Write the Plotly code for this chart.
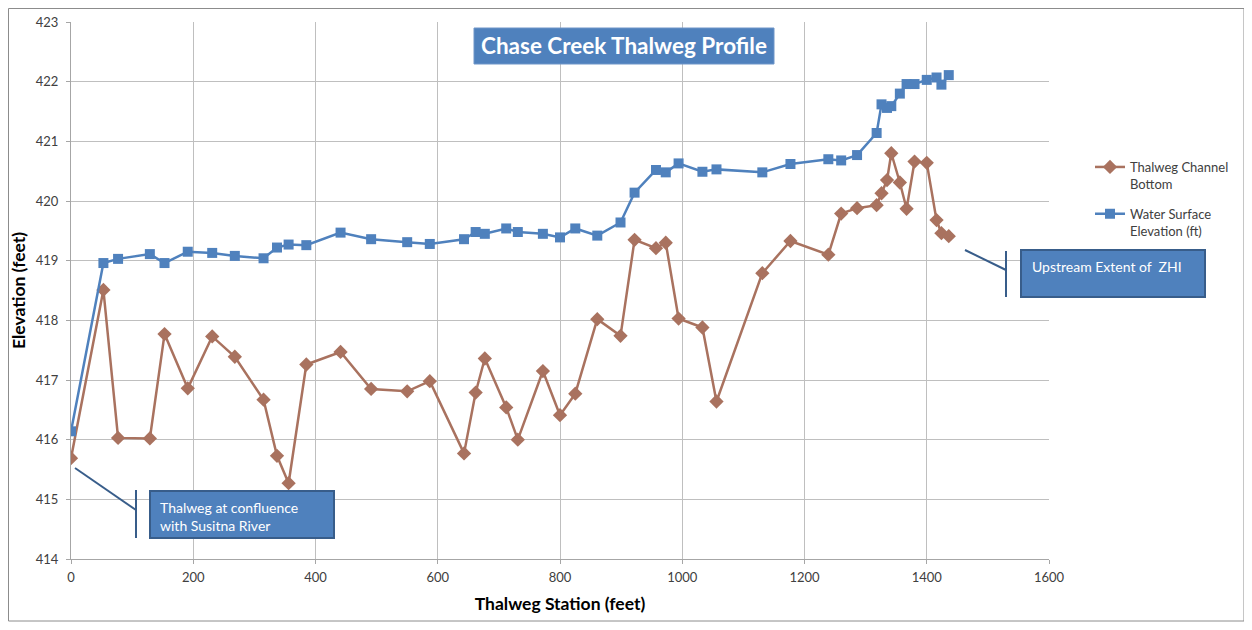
import plotly.graph_objects as go

# thalweg survey stations (feet) and elevations (feet)
station = [0, 53, 77, 129, 153, 191, 231, 268, 315, 337, 356, 385, 441, 491, 550, 587,
           643, 662, 677, 712, 731, 772, 800, 825, 861, 899, 922, 957, 973, 994, 1033, 1056,
           1131, 1177, 1239, 1260, 1286, 1318, 1326, 1335, 1342, 1356, 1367, 1380, 1400, 1416,
           1424, 1436]
channel_bottom = [415.69, 418.51, 416.03, 416.02, 417.77, 416.86, 417.73, 417.39, 416.67, 415.73,
                  415.27, 417.26, 417.47, 416.85, 416.81, 416.98, 415.77, 416.79, 417.36, 416.54,
                  416.00, 417.15, 416.41, 416.77, 418.02, 417.74, 419.35, 419.21, 419.30, 418.03,
                  417.88, 416.64, 418.79, 419.33, 419.10, 419.79, 419.88, 419.93, 420.13, 420.35,
                  420.80, 420.31, 419.87, 420.66, 420.64, 419.68, 419.46, 419.41]
water_surface = [416.14, 418.96, 419.03, 419.11, 418.96, 419.15, 419.13, 419.08, 419.04, 419.22,
                 419.27, 419.26, 419.47, 419.36, 419.31, 419.28, 419.36, 419.48, 419.45, 419.54,
                 419.48, 419.45, 419.39, 419.54, 419.42, 419.64, 420.14, 420.52, 420.48, 420.63,
                 420.49, 420.53, 420.48, 420.62, 420.70, 420.68, 420.77, 421.14, 421.62, 421.56,
                 421.59, 421.80, 421.96, 421.96, 422.03, 422.07, 421.95, 422.11]

# page body has an 8px margin, so the figure sits 8px in from the window corner
OFF = 8
W, H = 1252 - 2 * OFF, 630 - 2 * OFF
L, R, T, B = 71, 1049, 22, 559   # plot area in window pixels

def px(x):
    return (x - L) / (R - L)

def py(y):
    return (B - y) / (B - T)

FONT = "Lato"
BLUE = "#4f81bd"
BROWN = "#a9725f"
DARK = "#385d8a"

fig = go.Figure()
fig.add_trace(go.Scatter(x=station, y=channel_bottom, mode="lines+markers",
                         name="Thalweg Channel<br>Bottom", legendgroup="bottom",
                         line=dict(color=BROWN, width=2.5),
                         marker=dict(symbol="diamond", size=11, color=BROWN)))
fig.add_trace(go.Scatter(x=station, y=water_surface, mode="lines+markers",
                         name="Water Surface<br>Elevation (ft)", legendgroup="wse",
                         line=dict(color=BLUE, width=2.5),
                         marker=dict(symbol="square", size=10, color=BLUE)))

shapes = [
    # outer chart frame
    dict(type="rect", xref="paper", yref="paper", x0=px(8.5), x1=px(1244), y0=py(8.5), y1=py(621),
         line=dict(color="#8c8c8c", width=1), layer="below"),
    # title box
    dict(type="rect", xref="paper", yref="paper", x0=px(474), x1=px(774), y0=py(28), y1=py(64),
         fillcolor=BLUE, line=dict(color="#6e95c8", width=1)),
    # confluence callout
    dict(type="rect", xref="paper", yref="paper", x0=px(150), x1=px(334), y0=py(491), y1=py(538),
         fillcolor=BLUE, line=dict(color=DARK, width=2)),
    dict(type="line", xref="paper", yref="paper", x0=px(136), x1=px(136), y0=py(490), y1=py(538),
         line=dict(color=DARK, width=2)),
    dict(type="line", xref="paper", yref="paper", x0=px(75), x1=px(136), y0=py(468), y1=py(510),
         line=dict(color=DARK, width=2)),
    # upstream callout
    dict(type="rect", xref="paper", yref="paper", x0=px(1021), x1=px(1205), y0=py(250), y1=py(297),
         fillcolor=BLUE, line=dict(color=DARK, width=2)),
    dict(type="line", xref="paper", yref="paper", x0=px(1006), x1=px(1006), y0=py(251), y1=py(297),
         line=dict(color=DARK, width=2)),
    dict(type="line", xref="paper", yref="paper", x0=px(965), x1=px(1006), y0=py(250), y1=py(270),
         line=dict(color=DARK, width=2)),
]

annotations = [
    dict(text="<b>Chase Creek Thalweg Profile</b>", xref="paper", yref="paper",
         x=px(624), y=py(46), xanchor="center", yanchor="middle", showarrow=False,
         font=dict(family=FONT, size=22.5, color="white")),
    dict(text="Thalweg at confluence<br>with Susitna River", xref="paper", yref="paper",
         x=px(158), y=py(497), xanchor="left", yanchor="top", align="left", showarrow=False,
         font=dict(family=FONT, size=14, color="white")),
    dict(text="Upstream Extent of  ZHI", xref="paper", yref="paper",
         x=px(1030), y=py(256), xanchor="left", yanchor="top", align="left", showarrow=False,
         font=dict(family=FONT, size=14, color="white")),
]

fig.update_layout(
    width=W, height=H,
    margin=dict(l=L - OFF, r=W - (R - OFF), t=T - OFF, b=H - (B - OFF), autoexpand=False),
    paper_bgcolor="white", plot_bgcolor="white",
    font=dict(family=FONT, size=13, color="#404040"),
    shapes=shapes, annotations=annotations,
    legend=dict(x=px(1090), y=py(152), xanchor="left", yanchor="top", valign="top",
                font=dict(family=FONT, size=13, color="#404040"),
                itemwidth=30, tracegroupgap=10, bgcolor="rgba(0,0,0,0)"),
)
fig.update_xaxes(range=[0, 1600], dtick=200, showgrid=True, gridcolor="#bfbfbf", gridwidth=1,
                 showline=True, linecolor="#a6a6a6", linewidth=1, zeroline=False,
                 ticks="outside", ticklen=4, tickcolor="#a6a6a6", automargin=False,
                 ticklabelstandoff=2,
                 title=dict(text="<b>Thalweg Station (feet)</b>", standoff=14,
                            font=dict(family=FONT, size=17.5, color="black")))
fig.update_yaxes(range=[414, 423], dtick=1, showgrid=True, gridcolor="#bfbfbf", gridwidth=1,
                 showline=True, linecolor="#a6a6a6", linewidth=1, zeroline=False,
                 ticks="outside", ticklen=4, tickcolor="#a6a6a6", automargin=False,
                 ticklabelstandoff=5,
                 title=dict(text="<b>Elevation (feet)</b>", standoff=8,
                            font=dict(family=FONT, size=17.5, color="black")))

fig.write_html("out.html")
